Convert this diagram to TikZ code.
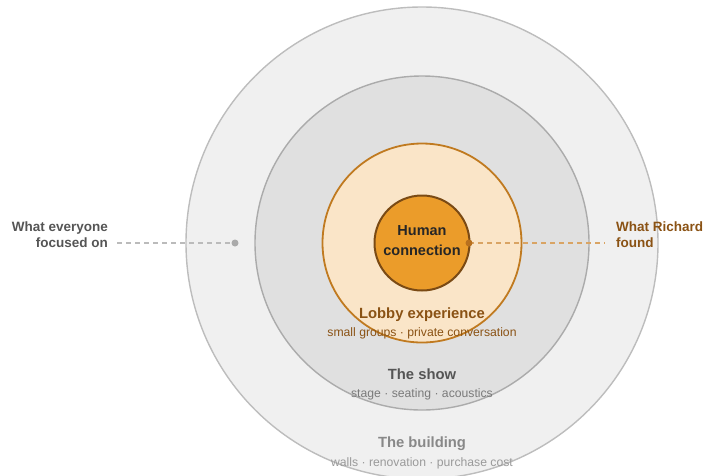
\documentclass[tikz,border=0pt]{standalone}
\usepackage{fontspec}
\setmainfont{Liberation Sans}
\definecolor{ringA}{HTML}{F0F0F0}
\definecolor{ringAline}{HTML}{BDBDBD}
\definecolor{ringB}{HTML}{E0E0E0}
\definecolor{ringBline}{HTML}{ABABAB}
\definecolor{ringC}{HTML}{FAE5C8}
\definecolor{ringCline}{HTML}{C07A20}
\definecolor{core}{HTML}{EB9C2A}
\definecolor{coreline}{HTML}{7A4A14}
\definecolor{brownText}{HTML}{8A5214}
\definecolor{showText}{HTML}{555555}
\definecolor{showSub}{HTML}{7A7A7A}
\definecolor{bldText}{HTML}{888888}
\definecolor{bldSub}{HTML}{9A9A9A}
\definecolor{sideGray}{HTML}{555555}
\definecolor{leadGray}{HTML}{BBBBBB}
\definecolor{dotGray}{HTML}{AAAAAA}
\definecolor{leadOrange}{HTML}{D9A464}
\definecolor{dotOrange}{HTML}{B8701E}
\tikzset{
  ring/.style={circle, inner sep=0pt, line width=1.4pt},
  title/.style={font=\fontsize{14.8}{17}\selectfont\bfseries, anchor=base},
  sub/.style={font=\fontsize{12.2}{14}\selectfont, anchor=base},
  side/.style={font=\fontsize{13.5}{16.5}\selectfont\bfseries, align=#1, inner sep=0pt},
  lead/.style={dashed, dash pattern=on 5pt off 4pt, line width=1.2pt},
}
\begin{document}
\begin{tikzpicture}[x=1pt, y=-1pt]
\useasboundingbox (0,0) rectangle (704,475);
\clip (0,0) rectangle (704,475);
% nested rings
\node[ring, draw=ringAline, fill=ringA, minimum size=472pt] (building) at (422,243) {};
\node[ring, draw=ringBline, fill=ringB, minimum size=334pt] (show) at (422,243) {};
\node[ring, draw=ringCline, fill=ringC, minimum size=199pt, line width=1.8pt] (lobby) at (422,243) {};
\node[ring, draw=coreline, fill=core, minimum size=95pt, line width=2pt] (core) at (422,243) {};
\node[font=\fontsize{14.5}{19.5}\selectfont\bfseries, align=center, text=black!85, inner sep=0pt]
  (coreText) at (422,240.5) {Human\\connection};
% ring labels
\node[title, text=brownText] (lobbyT) at (422,318) {Lobby experience};
\node[sub, text=brownText] (lobbyS) at (422,336) {small groups · private conversation};
\node[title, text=showText] (showT) at (422,379) {The show};
\node[sub, text=showSub] (showS) at (422,397) {stage · seating · acoustics};
\node[title, text=bldText] (bldT) at (422,447) {The building};
\node[sub, text=bldSub] (bldS) at (422,466) {walls · renovation · purchase cost};
% left pointer
\coordinate (leftDot) at (235,243);
\node[side=right, text=sideGray, anchor=east] (leftLbl) at (108,234.5) {What everyone\\focused on};
\draw[lead, draw=leadGray] (117,243) -- (leftDot);
\fill[dotGray] (leftDot) circle (3.5pt);
% right pointer
\coordinate (rightDot) at (469,243);
\node[side=left, text=brownText, anchor=west] (rightLbl) at (616,234.5) {What Richard\\found};
\draw[lead, draw=leadOrange] (rightDot) -- (605,243);
\fill[dotOrange] (rightDot) circle (3.5pt);
\end{tikzpicture}
\end{document}
